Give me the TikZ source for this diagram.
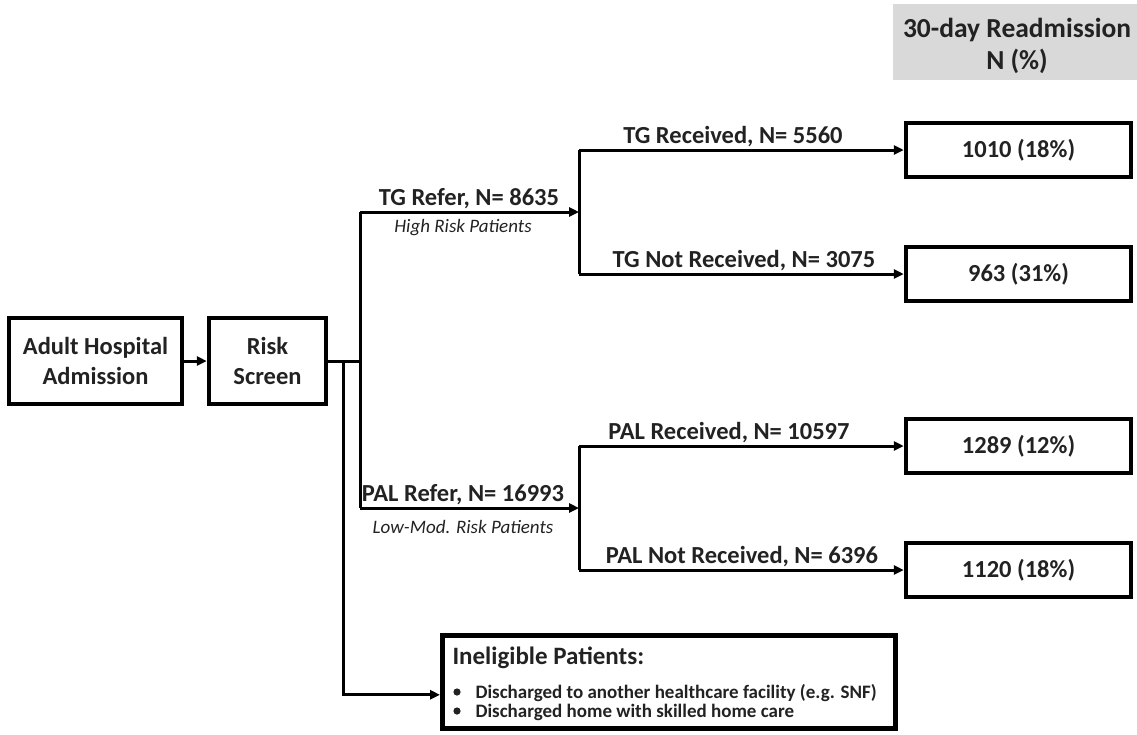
\documentclass[tikz,border=0pt]{standalone}
\usepackage{fontspec}
\setmainfont{Carlito}
\usetikzlibrary{arrows.meta}
\definecolor{hdr}{HTML}{D9D9D9}
\definecolor{ink}{HTML}{222222}
\begin{document}
\begin{tikzpicture}[x=1pt,y=-1pt,
  box/.style={draw=black, line width=4.5pt, inner sep=0pt, align=center, text=ink,
              font=\bfseries\fontsize{24.5}{30}\selectfont},
  conn/.style={line width=3pt},
  arr/.style={conn, -{Triangle[length=10pt,width=9pt]}},
  lab/.style={anchor=base, text=ink, font=\bfseries\fontsize{24.5}{29}\selectfont},
  sublab/.style={anchor=base, text=ink, font=\itshape\fontsize{19}{23}\selectfont},
  bul/.style={anchor=base west, text=ink, font=\bfseries\fontsize{19}{23}\selectfont}]
\useasboundingbox (0,0) rectangle (1137,734);

% header
\node[fill=hdr, minimum width=244pt, minimum height=76pt, inner sep=0pt] (hdr) at (1015,42) {};
\node[align=center, text=ink, inner sep=0pt, font=\bfseries\fontsize{27.5}{32}\selectfont]
      (hdrtext) at (1017,46) {30-day Readmission\\N (\%)};

% main boxes
\node[box, minimum width=173pt, minimum height=86pt] (adult) at (95.5,361) {Adult Hospital\\Admission};
\node[box, minimum width=117pt, minimum height=86pt] (risk) at (267.5,361) {Risk\\Screen};

% result boxes
\node[box, minimum width=225pt, minimum height=54pt] (r1) at (1018.5,150) {1010 (18\%)};
\node[box, minimum width=225pt, minimum height=54pt] (r2) at (1018.5,274) {963 (31\%)};
\node[box, minimum width=225pt, minimum height=54pt] (r3) at (1018.5,446) {1289 (12\%)};
\node[box, minimum width=225pt, minimum height=54pt] (r4) at (1018.5,570) {1120 (18\%)};

% ineligible box
\node[draw=black, line width=4.5pt, anchor=north west, minimum width=453pt, minimum height=93pt, inner sep=0pt] (inel) at (440,633) {};
\node[anchor=base west, text=ink, font=\bfseries\fontsize{25}{30}\selectfont] (ineltitle) at (449,664) {Ineligible Patients:};
\fill[ink] (457,692) circle (3.6pt);
\node[bul] (b1) at (472,698) {Discharged to another healthcare facility (e.g. SNF)};
\fill[ink] (457,711) circle (3.6pt);
\node[bul] (b2) at (472,717) {Discharged home with skilled home care};

% junction coordinates
\coordinate (j0) at (343,361);
\coordinate (j1) at (360,361);
\coordinate (tgj) at (360,212);
\coordinate (palj) at (360,508);
\coordinate (tgs) at (579,212);
\coordinate (pals) at (579,508);
\coordinate (tgtop) at (579,150);
\coordinate (tgbot) at (579,274);
\coordinate (paltop) at (579,446);
\coordinate (palbot) at (579,570);

% connectors
\draw[arr] (adult) -- (risk);
\draw[conn] (risk.east) -- (j1);
\draw[conn] (tgj) -- (palj);
\draw[arr] (j0) |- ([yshift=-13pt]inel.west);
\draw[arr] (tgj) -- (tgs);
\draw[arr] (palj) -- (pals);
\draw[conn] (tgtop) -- (tgbot);
\draw[conn] (paltop) -- (palbot);
\draw[arr] (tgtop) -- (r1);
\draw[arr] (tgbot) -- (r2);
\draw[arr] (paltop) -- (r3);
\draw[arr] (palbot) -- (r4);

% labels
\node[lab] (l1) at (469,205) {TG Refer, N= 8635};
\node[sublab] (s1) at (463,232) {High Risk Patients};
\node[lab] (l2) at (463,501) {PAL Refer, N= 16993};
\node[sublab] (s2) at (463,533) {Low-Mod. Risk Patients};
\node[lab] (l3) at (733,143) {TG Received, N= 5560};
\node[lab] (l4) at (744,267) {TG Not Received, N= 3075};
\node[lab] (l5) at (729,439) {PAL Received, N= 10597};
\node[lab] (l6) at (742,563) {PAL Not Received, N= 6396};
\end{tikzpicture}
\end{document}
